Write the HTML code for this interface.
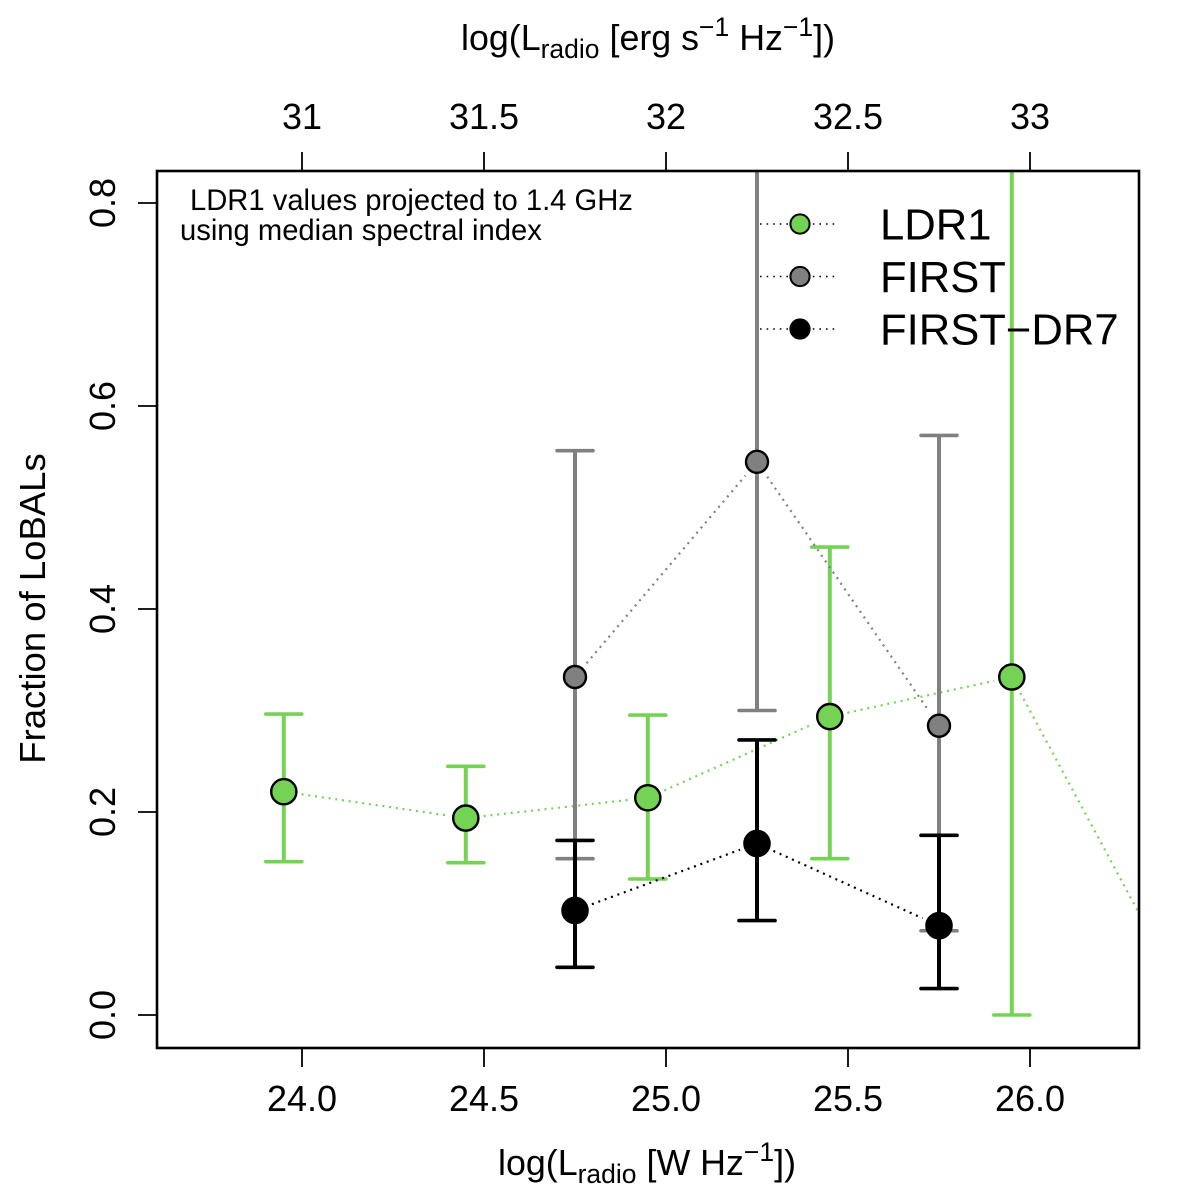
<!DOCTYPE html>
<html>
<head>
<meta charset="utf-8">
<title>Fraction of LoBALs</title>
<style>
html,body{margin:0;padding:0;background:#fff;}
svg{display:block;font-family:"Liberation Sans",sans-serif;}
text{fill:#000;}
</style>
</head>
<body>
<svg id="chart" xmlns="http://www.w3.org/2000/svg" width="1200" height="1194" viewBox="0 0 1200 1194">
  <defs>
    <clipPath id="plot-clip"><rect x="157" y="171" width="982" height="877"></rect></clipPath>
  </defs>
  <rect x="0" y="0" width="1200" height="1194" fill="#fff"></rect>
  <g id="series-layer" clip-path="url(#plot-clip)"></g>
  <rect x="157" y="171" width="982" height="877" fill="none" stroke="#000" stroke-width="2.6"></rect>
  <g id="axis-layer"></g>

  <text x="461" y="50" font-size="35.8">log(L<tspan font-size="26.5" dy="8">radio</tspan><tspan dy="-8"> [erg s</tspan><tspan font-size="26.5" dy="-14">−1</tspan><tspan dy="14"> Hz</tspan><tspan font-size="26.5" dy="-14">−1</tspan><tspan dy="14">])</tspan></text>
  <text x="498" y="1175" font-size="35.8">log(L<tspan font-size="26.5" dy="8">radio</tspan><tspan dy="-8"> [W Hz</tspan><tspan font-size="26.5" dy="-14">−1</tspan><tspan dy="14">])</tspan></text>
  <text transform="translate(45,608.5) rotate(-90)" text-anchor="middle" font-size="36.5">Fraction of LoBALs</text>

  <text x="190" y="210" font-size="29.2">LDR1 values projected to 1.4 GHz</text>
  <text x="180" y="240" font-size="29.2">using median spectral index</text>

  <g id="legend"></g>
</svg>
<script>
// Chart data
const ldr1X = [23.95, 24.45, 24.95, 25.45, 25.95, 26.45];
const ldr1Y = [0.220, 0.194, 0.214, 0.294, 0.333, 0.0];
const ldr1Hi = [0.2965, 0.245, 0.2955, 0.461, 1.0, 0.0];
const ldr1Lo = [0.151, 0.150, 0.134, 0.154, 0.0, 0.0];

const firstX = [24.75, 25.25, 25.75];
const firstY = [0.333, 0.545, 0.285];
const firstHi = [0.556, 1.0, 0.571];
const firstLo = [0.154, 0.300, 0.083];

const dr7X = [24.75, 25.25, 25.75];
const dr7Y = [0.103, 0.169, 0.088];
const dr7Hi = [0.172, 0.271, 0.177];
const dr7Lo = [0.047, 0.093, 0.026];

const bottomTicks = [24.0, 24.5, 25.0, 25.5, 26.0];
const bottomTickLabels = ['24.0', '24.5', '25.0', '25.5', '26.0'];
const topTicks = [31, 31.5, 32, 32.5, 33];
const topTickLabels = ['31', '31.5', '32', '32.5', '33'];
const leftTicks = [0, 0.2, 0.4, 0.6, 0.8];
const leftTickLabels = ['0.0', '0.2', '0.4', '0.6', '0.8'];

const legendLabels = ['LDR1', 'FIRST', 'FIRST−DR7'];

const GREEN = '#74d354';
const GRAY = '#808080';
const BLACK = '#000000';
const NS = 'http://www.w3.org/2000/svg';

function xScale(v) { return 302 + (v - 24) * 364; }
function xTopScale(v) { return 302 + (v - 31) * 364; }
function yScale(v) { return 1015 - v * 1015; }

function make(tag, attrs, parent) {
  const el = document.createElementNS(NS, tag);
  for (const k in attrs) el.setAttribute(k, attrs[k]);
  parent.appendChild(el);
  return el;
}

function drawSeries(parent, key, xs, ys, his, los, color, r) {
  const group = make('g', {}, parent);
  
  
  // dotted connectors, with gaps around the points (type "b")
  for (let i = 0; i < xs.length - 1; i++) {
    const x1 = xScale(xs[i]), y1 = yScale(ys[i]), x2 = xScale(xs[i + 1]), y2 = yScale(ys[i + 1]);
    const len = Math.hypot(x2 - x1, y2 - y1);
    const ux = (x2 - x1) / len, uy = (y2 - y1) / len;
    const gap = 18;
    const seg = make('line', {
      x1: x1 + ux * gap, y1: y1 + uy * gap, x2: x2 - ux * gap, y2: y2 - uy * gap,
      stroke: color, 'stroke-width': 2.2, 'stroke-dasharray': '2 4.8'
    }, group);
    
    
  }
  // error bars
  for (let i = 0; i < xs.length; i++) {
    const cx = xScale(xs[i]);
    const stem = make('line', { x1: cx, x2: cx, y1: yScale(his[i]), y2: yScale(los[i]), stroke: color, 'stroke-width': 4 }, group);
    
    
    const capHi = make('line', { x1: cx - 18, x2: cx + 18, y1: yScale(his[i]), y2: yScale(his[i]), stroke: color, 'stroke-width': 3.6, 'stroke-linecap': 'round' }, group);
    
    
    const capLo = make('line', { x1: cx - 18, x2: cx + 18, y1: yScale(los[i]), y2: yScale(los[i]), stroke: color, 'stroke-width': 3.6, 'stroke-linecap': 'round' }, group);
    
    
  }
  // points
  for (let i = 0; i < xs.length; i++) {
    const pt = make('circle', { cx: xScale(xs[i]), cy: yScale(ys[i]), r: r, fill: color, stroke: '#000', 'stroke-width': 2.4 }, group);
    
    
  }
}

const seriesLayer = document.getElementById('series-layer');
drawSeries(seriesLayer, 'ldr1', ldr1X, ldr1Y, ldr1Hi, ldr1Lo, GREEN, 12.6);
drawSeries(seriesLayer, 'first', firstX, firstY, firstHi, firstLo, GRAY, 11);
drawSeries(seriesLayer, 'first-dr7', dr7X, dr7Y, dr7Hi, dr7Lo, BLACK, 12.6);

const axisLayer = document.getElementById('axis-layer');

bottomTicks.forEach(function (v, i) {
  const px = xScale(v);
  const tick = make('line', { x1: px, x2: px, y1: 1048, y2: 1067, stroke: '#000', 'stroke-width': 1.8 }, axisLayer);
  
  
  const label = make('text', { x: px, y: 1111, 'text-anchor': 'middle', 'font-size': 36 }, axisLayer);
  
  
  label.textContent = bottomTickLabels[i];
});

topTicks.forEach(function (v, i) {
  const px = xTopScale(v);
  const tick = make('line', { x1: px, x2: px, y1: 152, y2: 171, stroke: '#000', 'stroke-width': 1.8 }, axisLayer);
  
  
  const label = make('text', { x: px, y: 129, 'text-anchor': 'middle', 'font-size': 36 }, axisLayer);
  
  
  label.textContent = topTickLabels[i];
});

leftTicks.forEach(function (v, i) {
  const py = yScale(v);
  const tick = make('line', { x1: 138, x2: 157, y1: py, y2: py, stroke: '#000', 'stroke-width': 1.8 }, axisLayer);
  
  
  const label = make('text', { transform: 'translate(115,' + py + ') rotate(-90)', 'text-anchor': 'middle', 'font-size': 36 }, axisLayer);
  
  
  label.textContent = leftTickLabels[i];
});

const legend = document.getElementById('legend');
const legendColors = [GREEN, GRAY, BLACK];
legendLabels.forEach(function (name, i) {
  const rowY = 224 + i * 52.5;
  const dots = make('line', { x1: 760, x2: 836, y1: rowY, y2: rowY, stroke: '#000', 'stroke-width': 1.6, 'stroke-dasharray': '1.6 5' }, legend);
  
  
  const marker = make('circle', { cx: 800, cy: rowY, r: 9.6, fill: legendColors[i], stroke: '#000', 'stroke-width': 2 }, legend);
  
  
  const label = make('text', { x: 880, y: rowY + 15.5, 'font-size': 43.6 }, legend);
  
  
  label.textContent = name;
});
</script>
</body>
</html>
